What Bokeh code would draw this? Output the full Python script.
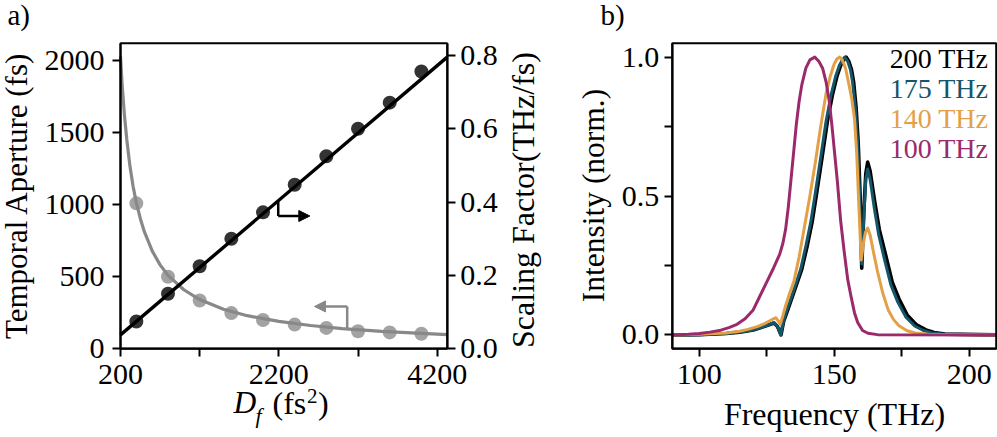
from math import pi
from bokeh.plotting import figure
from bokeh.models import (Range1d, LinearAxis, Label, Arrow, NormalHead, BoxAnnotation,
                          FixedTicker, PrintfTickFormatter)
from bokeh.layouts import row
from bokeh.embed import file_html
from bokeh.resources import INLINE

FONT = "Liberation Serif"

# ---------------- panel a data ----------------
df_points = [400, 800, 1200, 1600, 2000, 2400, 2800, 3200, 3600, 4000]
aperture_points = [1010, 500, 335, 248, 200, 168, 145, 122, 114, 104]
scaling_points = [0.0745, 0.150, 0.225, 0.300, 0.372, 0.447, 0.525, 0.600, 0.671, 0.756]

aperture_fit_x = [200, 220, 250, 280, 320, 360, 400, 450, 500, 600, 700, 800,
                  1000, 1200, 1500, 1800, 2200, 2600, 3000, 3500, 4000, 4326]
aperture_fit_y = [2030, 1840, 1620, 1450, 1265, 1125, 1015, 905, 815, 680, 583, 510,
                  410, 342, 275, 230, 190, 162, 140, 121, 107, 99]
scaling_fit_x = [200, 4326]
scaling_fit_y = [0.038, 0.795]

a_xticks = [200, 1200, 2200, 3200, 4200]
a_yticks_left = [0, 500, 1000, 1500, 2000]
a_yticks_right = [0.0, 0.2, 0.4, 0.6, 0.8]
A_X = (200, 4326)
A_YL = (0, 2122)
A_YR = (0, 0.833)

# arrows (annotations)
arrow_black = dict(x0=2192, y_top=0.404, y=0.362, x_tip=2591)
arrow_gray = dict(x0=3063, y_bot=139, y=294, x_tip=2650)

# ---------------- panel b data ----------------
f_200 = [90, 100, 110, 115, 120, 124, 127.7, 129, 130.3, 131.3, 132.8, 135.3, 138, 140,
         141.8, 143.5, 145.6, 147.5, 149.3, 151, 152.4, 153.5, 154.4, 155.4, 156.4, 157.2,
         158.1, 158.9, 159.6, 160.2, 161, 161.7, 162.4, 163.3, 165, 166.7, 169, 171.5,
         174.2, 177, 180.5, 184, 187, 191, 210]
i_200 = [0, 0.001, 0.005, 0.01, 0.018, 0.03, 0.043, 0.03, 0.0, 0.05, 0.09, 0.16, 0.237, 0.32,
         0.405, 0.51, 0.645, 0.77, 0.862, 0.93, 0.97, 0.99, 1.0, 0.985, 0.955, 0.91,
         0.82, 0.69, 0.5, 0.24, 0.45, 0.58, 0.622, 0.59, 0.48, 0.38, 0.29, 0.19,
         0.125, 0.072, 0.036, 0.018, 0.009, 0.003, 0]

f_175 = [90, 100, 110, 115, 120, 124, 127.7, 129, 130.2, 131.2, 132.6, 135, 137.6, 139.5,
         141.3, 143, 145.1, 147, 148.8, 150.5, 151.9, 153, 153.9, 155, 156, 156.8, 157.8,
         158.7, 159.5, 160.2, 161, 161.7, 162.4, 163.3, 164.9, 166.5, 168.6, 171, 173.6,
         176.5, 179.8, 183, 186, 190, 210]
i_175 = [0, 0.001, 0.005, 0.01, 0.018, 0.03, 0.044, 0.03, 0.0, 0.05, 0.092, 0.16, 0.237, 0.32,
         0.405, 0.51, 0.645, 0.77, 0.862, 0.93, 0.97, 0.99, 1.0, 0.985, 0.955, 0.91, 0.82,
         0.69, 0.48, 0.255, 0.43, 0.56, 0.597, 0.56, 0.453, 0.36, 0.273, 0.18, 0.117,
         0.065, 0.032, 0.016, 0.008, 0.003, 0]

f_140 = [90, 100, 110, 115, 118, 121.5, 124, 126, 127.5, 128.4, 129.3, 130, 131, 132, 133.5,
         135, 137, 139, 141, 143, 145, 147, 148.5, 150, 151, 152, 153, 154.2, 155.5, 156.5,
         157.5, 158.3, 159.2, 160, 160.8, 161.6, 162.4, 163.3, 164.5, 166, 168, 170, 172,
         174, 177, 180, 185, 210]
i_140 = [0, 0.002, 0.007, 0.013, 0.02, 0.03, 0.04, 0.05, 0.058, 0.062, 0.05, 0.038, 0.07,
         0.105, 0.15, 0.19, 0.28, 0.39, 0.50, 0.62, 0.75, 0.87, 0.93, 0.975, 0.993, 1.0,
         0.99, 0.96, 0.9, 0.85, 0.78, 0.66, 0.45, 0.27, 0.33, 0.37, 0.385, 0.36, 0.3,
         0.23, 0.15, 0.09, 0.055, 0.033, 0.015, 0.007, 0.002, 0]

f_100 = [90, 96, 100, 104, 108, 111, 114, 117, 120, 122.5, 125, 127.5, 129.8, 131, 132, 133,
         134, 135, 136, 137, 138, 139.5, 141, 142.8, 144.3, 145.7, 147, 148.2, 149.2, 150.2,
         151.2, 152.4, 153.7, 155, 156.2, 157.5, 158.7, 160.5, 162.5, 166, 210]
i_100 = [0.0, 0.002, 0.005, 0.01, 0.017, 0.026, 0.038, 0.058, 0.09, 0.14, 0.19, 0.24, 0.29,
         0.33, 0.38, 0.46, 0.56, 0.66, 0.76, 0.84, 0.90, 0.96, 0.99, 1.0, 0.985, 0.96, 0.91,
         0.84, 0.75, 0.65, 0.55, 0.41, 0.30, 0.20, 0.14, 0.08, 0.045, 0.016, 0.006, 0.001, 0.0]

series_labels = ["200 THz", "175 THz", "140 THz", "100 THz"]
series_colors = ["#000000", "#14566a", "#e4a046", "#9b2a6c"]

b_xticks = [100, 125, 150, 175, 200]
b_yticks = [0, 0.25, 0.5, 0.75, 1.0]
B_X = (90, 210)
B_Y = (-0.05, 1.05)

# ---------------- layout geometry (page pixels) ----------------
H = 437
W_A, W_B = 555, 442
X0_B = W_A
BOX_A = (120.0, 446.7, 42.7, 348.3)   # left, right, top, bottom (page px)
BOX_B = (671.7, 995.7, 42.7, 348.3)
BASELINE_FIX = 0.4   # em offset between Bokeh's alphabetic anchor and drawn baseline


def lin(d0, d1, p0, p1):
    s = (d1 - d0) / (p1 - p0)
    return lambda p: d0 + (p - p0) * s


class Panel:
    def __init__(self, x0, w, box, xd, yd):
        l, r, t, b = box
        self.fx = lin(xd[0], xd[1], l, r)
        self.fy = lin(yd[0], yd[1], b, t)
        self.x0, self.w = x0, w
        self.box = box
        p = figure(width=w, height=H, title=None, output_backend="svg",
                   toolbar_location=None, tools="",
                   x_axis_location=None, y_axis_location=None,
                   x_range=Range1d(self.fx(x0), self.fx(x0 + w)),
                   y_range=Range1d(self.fy(H), self.fy(0)))
        p.min_border = 0
        p.min_border_left = p.min_border_right = p.min_border_top = p.min_border_bottom = 0
        p.outline_line_color = None
        p.background_fill_color = "white"
        p.border_fill_color = "white"
        p.grid.visible = False
        self.p = p

    def range_for(self, d):
        l, r, t, b = self.box
        f = lin(d[0], d[1], b, t)
        return Range1d(f(H), f(0))

    def text(self, X, Y, s, size=31.5, align="left", angle=0, color="black",
             style="normal"):
        shift = BASELINE_FIX * size
        if angle:
            X -= shift
        else:
            Y -= shift
        self.p.add_layout(Label(x=self.fx(X), y=self.fy(Y), text=s, text_font=FONT,
                                text_font_size=f"{size}px", text_align=align,
                                text_baseline="alphabetic", angle=angle,
                                text_color=color, text_font_style=style))


def make_axis(fixed, bounds, ticks, standoff, y_range_name="default",
              fmt=None, overrides=None):
    ax = LinearAxis(fixed_location=fixed, bounds=bounds, y_range_name=y_range_name)
    ax.ticker = FixedTicker(ticks=ticks)
    if fmt:
        ax.formatter = PrintfTickFormatter(format=fmt)
    if overrides:
        ax.major_label_overrides = overrides
    ax.major_label_text_font = FONT
    ax.major_label_text_font_size = "30px"
    ax.major_label_text_color = "black"
    ax.axis_line_color = "black"
    ax.axis_line_width = 2
    ax.major_tick_line_color = "black"
    ax.major_tick_line_width = 2
    ax.major_tick_out = 8
    ax.major_tick_in = 0
    ax.minor_tick_line_color = None
    ax.major_label_standoff = standoff
    return ax


# ================= panel a =================
A = Panel(0, W_A, BOX_A, A_X, A_YL)
p1 = A.p
p1.extra_y_ranges = {"right": A.range_for(A_YR)}

p1.add_layout(make_axis(A_YL[0], A_X, a_xticks, 8, overrides={1200: "", 3200: ""}), "below")
p1.add_layout(make_axis(A_X[0], A_YL, a_yticks_left, 8), "left")
p1.add_layout(make_axis(A_X[1], A_YR, a_yticks_right, 5, y_range_name="right",
                        fmt="%.1f"), "right")
p1.add_layout(BoxAnnotation(left=A_X[0], right=A_X[1], bottom=A_YL[0], top=A_YL[1],
                            fill_color=None, fill_alpha=0, line_color="black",
                            line_width=2, line_alpha=1))

p1.scatter(df_points, aperture_points, size=14, fill_color="#a3a3a3", line_color=None)
p1.line(aperture_fit_x, aperture_fit_y, line_color="#888888", line_width=3.2)
p1.scatter(df_points, scaling_points, size=14, fill_color="#333333", line_color=None,
           y_range_name="right")
p1.line(scaling_fit_x, scaling_fit_y, line_color="black", line_width=3.4,
        y_range_name="right")

p1.line([arrow_black["x0"], arrow_black["x0"]], [arrow_black["y_top"], arrow_black["y"]],
        line_color="black", line_width=2.5, y_range_name="right")
p1.add_layout(Arrow(end=NormalHead(size=11, fill_color="black", line_color="black"),
                    x_start=arrow_black["x0"], y_start=arrow_black["y"],
                    x_end=arrow_black["x_tip"], y_end=arrow_black["y"],
                    line_color="black", line_width=2.5, y_range_name="right"))
p1.line([arrow_gray["x0"], arrow_gray["x0"]], [arrow_gray["y_bot"], arrow_gray["y"]],
        line_color="#888888", line_width=2.5)
p1.add_layout(Arrow(end=NormalHead(size=11, fill_color="#888888", line_color="#888888"),
                    x_start=arrow_gray["x0"], y_start=arrow_gray["y"],
                    x_end=arrow_gray["x_tip"], y_end=arrow_gray["y"],
                    line_color="#888888", line_width=2.5))

A.text(7, 26.5, "a)", size=29)
A.text(28, 195, "Temporal Aperture (fs)", size=31, align="center", angle=pi / 2)
A.text(535, 199.5, "Scaling Factor(THz/fs)", size=32, align="center", angle=pi / 2)
A.text(233, 415, "D", size=31.5, style="italic")
A.text(255, 424, "f", size=22, style="italic")
A.text(272, 415, "(fs", size=32)
A.text(306.5, 404, "2", size=21)
A.text(317.5, 415, ")", size=32)

# ================= panel b =================
B = Panel(X0_B, W_B, BOX_B, B_X, B_Y)
p2 = B.p
p2.add_layout(make_axis(B_Y[0], B_X, b_xticks, 8, overrides={125: "", 175: ""}), "below")
p2.add_layout(make_axis(B_X[0], B_Y, b_yticks, 5, fmt="%.1f",
                        overrides={0.25: "", 0.75: ""}), "left")
p2.add_layout(BoxAnnotation(left=B_X[0], right=B_X[1], bottom=B_Y[0], top=B_Y[1],
                            fill_color=None, fill_alpha=0, line_color="black",
                            line_width=2, line_alpha=1))

for fx, iy, col, lw in [(f_200, i_200, series_colors[0], 3.6),
                        (f_175, i_175, series_colors[1], 3.0),
                        (f_140, i_140, series_colors[2], 3.0),
                        (f_100, i_100, series_colors[3], 3.0)]:
    p2.line(fx, iy, line_color=col, line_width=lw, line_join="round")

for k, (lab, col) in enumerate(zip(series_labels, series_colors)):
    B.text(988, 69 + 30 * k, lab, size=28, align="right", color=col)

B.text(600, 26.5, "b)", size=29)
B.text(605.5, 195, "Intensity (norm.)", size=31.5, align="center", angle=pi / 2)
B.text(834, 426, "Frequency (THz)", size=32, align="center")

layout = row(p1, p2)
open("out.html", "w").write(file_html(layout, INLINE))
